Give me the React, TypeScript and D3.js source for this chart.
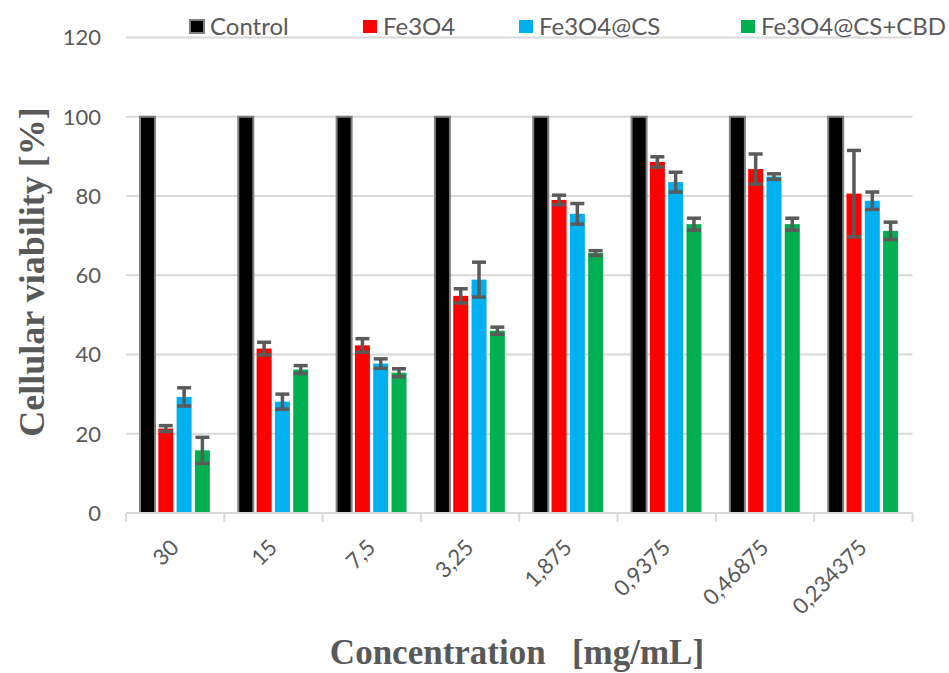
import React from "react";
import * as d3 from "d3";

const categories = ["30", "15", "7,5", "3,25", "1,875", "0,9375", "0,46875", "0,234375"];
const seriesNames = ["Control", "Fe3O4", "Fe3O4@CS", "Fe3O4@CS+CBD"];
const seriesColors = ["#000000", "#FF0000", "#00B0F0", "#00B050"];

const controlValues = [100, 100, 100, 100, 100, 100, 100, 100];
const fe3o4Values = [21.3, 41.5, 42.3, 54.8, 79.0, 88.6, 86.8, 80.6];
const fe3o4Errors = [0.75, 1.6, 1.7, 1.8, 1.2, 1.3, 3.8, 10.9];
const csValues = [29.3, 28.1, 37.7, 58.9, 75.5, 83.5, 84.9, 78.8];
const csErrors = [2.3, 1.9, 1.2, 4.4, 2.6, 2.5, 0.7, 2.2];
const cbdValues = [15.8, 36.2, 35.4, 46.0, 65.6, 72.9, 72.9, 71.2];
const cbdErrors = [3.3, 1.0, 1.0, 0.9, 0.6, 1.5, 1.5, 2.2];

const yTicks = [0, 20, 40, 60, 80, 100, 120];

const W = 949;
const H = 673;
const PLOT_L = 126;
const PLOT_R = 912.5;
const Y0 = 513;
const Y120 = 37.5;

export default function App() {
  const x = d3.scaleBand<string>().domain(categories).range([PLOT_L, PLOT_R]).paddingInner(0).paddingOuter(0);
  const xs = d3.scaleBand<string>().domain(seriesNames).range([14, 14 + 3 * 18.3 + 15]).paddingInner(0.18).paddingOuter(0);
  const y = d3.scaleLinear().domain([0, 120]).range([Y0, Y120]);

  const values = [controlValues, fe3o4Values, csValues, cbdValues];
  const errors = [null, fe3o4Errors, csErrors, cbdErrors];

  const bw = xs.bandwidth();
  const gridColor = "#d9d9d9";
  const textColor = "#595959";
  const errColor = "#5a5a5a";
  const sans = "Lato, 'Open Sans', sans-serif";
  const serif = "'Liberation Serif', 'Times New Roman', 'DejaVu Serif', serif";

  const legendX = [190, 363, 519, 741];

  return (
    <svg width={W} height={H} style={{ position: "absolute", left: 0, top: 0, background: "#fff" }}>
      {/* gridlines */}
      {yTicks.map((t) => (
        <line key={"g" + t} x1={PLOT_L} x2={PLOT_R} y1={y(t)} y2={y(t)} stroke={gridColor} strokeWidth={2} />
      ))}
      {/* category ticks */}
      {d3.range(categories.length + 1).map((i) => {
        const xp = PLOT_L + i * x.step();
        return <line key={"ct" + i} x1={xp} x2={xp} y1={Y0} y2={Y0 + 9} stroke={gridColor} strokeWidth={2} />;
      })}
      {/* y tick labels */}
      {yTicks.map((t) => (
        <text key={"yl" + t} x={101} y={y(t)} dy="0.36em" textAnchor="end" fontFamily={sans} fontSize={22} fill={textColor}>
          {t}
        </text>
      ))}
      {/* bars */}
      {seriesNames.map((s, si) =>
        categories.map((c, ci) => {
          const v = values[si][ci];
          const bx = (x(c) as number) + (xs(s) as number);
          const top = y(v);
          return (
            <rect
              key={s + c}
              x={bx}
              y={top}
              width={bw}
              height={Y0 - top}
              fill={seriesColors[si]}
              stroke={si === 0 ? "#808080" : "none"}
              strokeWidth={si === 0 ? 2 : 0}
            />
          );
        })
      )}
      {/* error bars */}
      {seriesNames.map((s, si) => {
        const errs = errors[si];
        if (!errs) return null;
        return categories.map((c, ci) => {
          const v = values[si][ci];
          const e = errs[ci];
          const cx = (x(c) as number) + (xs(s) as number) + bw / 2;
          const yt = y(v + e);
          const yb = y(v - e);
          const hw = bw / 2 - 0.5;
          return (
            <g key={"e" + s + c} stroke={errColor} strokeWidth={3.5}>
              <line x1={cx} x2={cx} y1={yt} y2={yb} />
              <line x1={cx - hw} x2={cx + hw} y1={yt} y2={yt} />
              <line x1={cx - hw} x2={cx + hw} y1={yb} y2={yb} />
            </g>
          );
        });
      })}
      {/* x axis line */}
      <line x1={PLOT_L} x2={PLOT_R} y1={Y0} y2={Y0} stroke={gridColor} strokeWidth={2} />
      {/* x tick labels */}
      {categories.map((c) => {
        const cx = (x(c) as number) + x.bandwidth() / 2 + 5;
        const cy = 549;
        return (
          <text
            key={"xl" + c}
            x={cx}
            y={cy}
            transform={`rotate(-45, ${cx}, ${cy})`}
            textAnchor="end"
            fontFamily={sans}
            fontSize={22}
            fill={textColor}
          >
            {c}
          </text>
        );
      })}
      {/* axis titles */}
      <text
        transform={`translate(31, 272) rotate(-90)`}
        textAnchor="middle"
        dy="0.35em"
        fontFamily={serif}
        fontWeight="bold"
        fontSize={36}
        fill={textColor}
      >
        Cellular viability [%]
      </text>
      <text
        x={517}
        y={664}
        textAnchor="middle"
        fontFamily={serif}
        fontWeight="bold"
        fontSize={35}
        fill={textColor}
        style={{ whiteSpace: "pre" }}
      >
        {"Concentration   [mg/mL]"}
      </text>
      {/* legend */}
      {seriesNames.map((s, si) => (
        <g key={"lg" + s}>
          <rect
            x={legendX[si]}
            y={20}
            width={14}
            height={13}
            fill={seriesColors[si]}
            stroke={si === 0 ? "#808080" : "none"}
            strokeWidth={si === 0 ? 2 : 0}
          />
          <text x={legendX[si] + 20} y={26.5} dy="0.36em" fontFamily={sans} fontSize={24} fill={textColor}>
            {s}
          </text>
        </g>
      ))}
    </svg>
  );
}
